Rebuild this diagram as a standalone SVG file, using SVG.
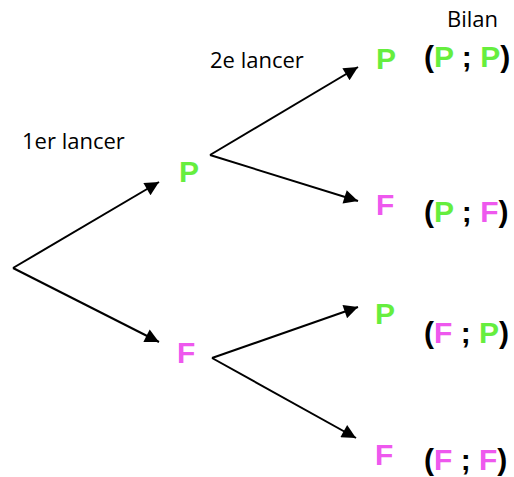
<svg xmlns="http://www.w3.org/2000/svg" width="514" height="477" viewBox="0 0 514 477">
  <defs>
    <marker id="arrow" viewBox="0 0 10 10" refX="10" refY="5" markerWidth="8.5" markerHeight="7" markerUnits="strokeWidth" orient="auto">
      <path d="M0,0 L10,5 L0,10 z" fill="#000"/>
    </marker>
    <style>
      .lbl { font-family: "Open Sans", "Liberation Sans", sans-serif; font-size: 22px; fill: #000; }
      .out { font-family: "Liberation Sans", Arial, sans-serif; font-weight: bold; font-size: 30px; }
      .pile { fill: #66EE3E; }
      .face { fill: #EE58EE; }
      .bil { font-family: "Liberation Sans", Arial, sans-serif; font-weight: bold; font-size: 30px; fill: #000; }
      .edge { stroke: #000; stroke-width: 2; fill: none; marker-end: url(#arrow); }
    </style>
  </defs>
  <rect width="514" height="477" fill="#fff"/>

  <!-- headings -->
  <g id="headings">
    <text class="lbl" x="447" y="27">Bilan</text>
    <text class="lbl" x="210" y="68">2e lancer</text>
    <text class="lbl" x="22" y="149">1er lancer</text>
  </g>

  <!-- branches of the tree -->
  <g id="connectors">
    <line class="edge" x1="13" y1="268" x2="159" y2="182"/>
    <line class="edge" x1="13" y1="268" x2="159" y2="342"/>
    <line class="edge" x1="210" y1="155" x2="358" y2="67"/>
    <line class="edge" x1="210" y1="155" x2="358" y2="201"/>
    <line class="edge" x1="212" y1="358" x2="358" y2="307"/>
    <line class="edge" x1="212" y1="358" x2="356" y2="438"/>
  </g>

  <!-- first throw -->
  <g id="n-p1"><text class="out pile" x="179" y="182">P</text></g>
  <g id="n-f1"><text class="out face" x="177" y="363">F</text></g>

  <!-- second throw -->
  <g id="n-pp"><text class="out pile" x="376" y="69">P</text></g>
  <g id="n-pf"><text class="out face" x="376" y="215">F</text></g>
  <g id="n-fp"><text class="out pile" x="375" y="324">P</text></g>
  <g id="n-ff"><text class="out face" x="375" y="465">F</text></g>

  <!-- outcomes -->
  <g id="b-pp"><text class="bil" x="424" y="67">(<tspan class="pile">P</tspan> ; <tspan class="pile">P</tspan>)</text></g>
  <g id="b-pf"><text class="bil" x="424" y="222">(<tspan class="pile">P</tspan> ; <tspan class="face">F</tspan>)</text></g>
  <g id="b-fp"><text class="bil" x="424" y="343">(<tspan class="face">F</tspan> ; <tspan class="pile">P</tspan>)</text></g>
  <g id="b-ff"><text class="bil" x="424" y="470">(<tspan class="face">F</tspan> ; <tspan class="face">F</tspan>)</text></g>
</svg>
